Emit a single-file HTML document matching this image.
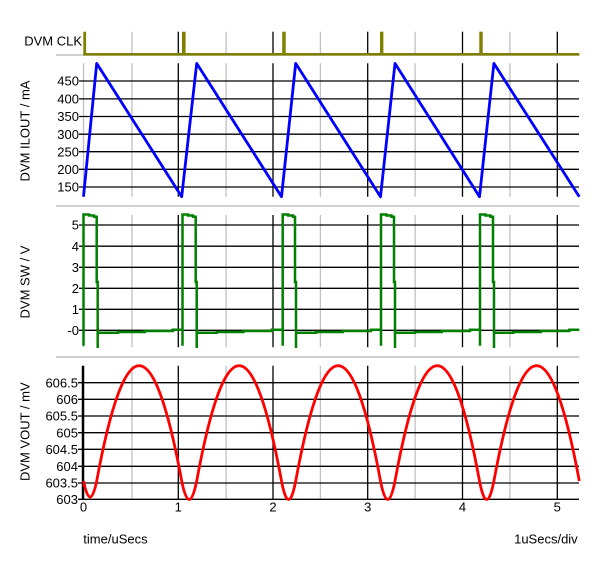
<!DOCTYPE html>
<html><head><meta charset="utf-8"><style>
html,body{margin:0;padding:0;background:#fff;}
svg{display:block;}
text{font-family:"Liberation Sans",Arial,sans-serif;font-size:13px;fill:#000;}
</style></head><body>
<svg width="600" height="563" viewBox="0 0 600 563" xmlns="http://www.w3.org/2000/svg">
<!-- separators -->
<g stroke="#c0c0c0" stroke-width="1.5">
<line x1="56" y1="55" x2="579.3" y2="55"/>
<line x1="56" y1="206" x2="579.3" y2="206"/>
<line x1="56" y1="357" x2="579.3" y2="357"/>
</g>
<!-- CLK panel grid -->
<g stroke="#c0c0c0" stroke-width="1.3">
<line x1="131.9" y1="31.7" x2="131.9" y2="54"/><line x1="226.1" y1="31.7" x2="226.1" y2="54"/>
<line x1="320.4" y1="31.7" x2="320.4" y2="54"/><line x1="415.1" y1="31.7" x2="415.1" y2="54"/>
<line x1="509.9" y1="31.7" x2="509.9" y2="54"/>
</g>
<g stroke="#000" stroke-width="1.3">
<line x1="178.3" y1="31.7" x2="178.3" y2="54"/><line x1="273" y1="31.7" x2="273" y2="54"/>
<line x1="367.7" y1="31.7" x2="367.7" y2="54"/><line x1="462.5" y1="31.7" x2="462.5" y2="54"/>
<line x1="557.3" y1="31.7" x2="557.3" y2="54"/>
</g>
<g fill="#808000">
<rect x="83.3" y="31.7" width="2.8" height="23"/>
<rect x="182" y="31.7" width="3.6" height="23"/>
<rect x="282.2" y="31.7" width="3.5" height="23"/>
<rect x="380" y="31.7" width="3.4" height="23"/>
<rect x="479.3" y="31.7" width="3.4" height="23"/>
<rect x="83.3" y="53" width="496" height="2.6"/>
</g>
<text x="82" y="45.5" text-anchor="end">DVM CLK</text>

<!-- ILOUT panel -->
<g stroke="#c0c0c0" stroke-width="1.3">
<line x1="83.5" y1="63.3" x2="83.5" y2="196.7"/>
<line x1="131.9" y1="63.3" x2="131.9" y2="196.7"/><line x1="226.1" y1="63.3" x2="226.1" y2="196.7"/>
<line x1="320.4" y1="63.3" x2="320.4" y2="196.7"/><line x1="415.1" y1="63.3" x2="415.1" y2="196.7"/>
<line x1="509.9" y1="63.3" x2="509.9" y2="196.7"/>
</g>
<g stroke="#000" stroke-width="1.3">
<line x1="178.3" y1="63.3" x2="178.3" y2="196.7"/><line x1="273" y1="63.3" x2="273" y2="196.7"/>
<line x1="367.7" y1="63.3" x2="367.7" y2="196.7"/><line x1="462.5" y1="63.3" x2="462.5" y2="196.7"/>
<line x1="557.3" y1="63.3" x2="557.3" y2="196.7"/>
<line x1="79" y1="81" x2="579" y2="81"/><line x1="79" y1="98.9" x2="579" y2="98.9"/>
<line x1="79" y1="116.5" x2="579" y2="116.5"/><line x1="79" y1="134.2" x2="579" y2="134.2"/>
<line x1="79" y1="151.7" x2="579" y2="151.7"/><line x1="79" y1="169.3" x2="579" y2="169.3"/>
<line x1="79" y1="187" x2="579" y2="187"/>
</g>
<g text-anchor="end">
<text x="79" y="85.7">450</text><text x="79" y="103.6">400</text><text x="79" y="121.2">350</text>
<text x="79" y="138.9">300</text><text x="79" y="156.4">250</text><text x="79" y="174">200</text>
<text x="79" y="191.7">150</text>
</g>
<text transform="translate(29.5,131) rotate(-90)" text-anchor="middle">DVM ILOUT / mA</text>
<polyline fill="none" stroke="#0000ff" stroke-width="2.8" stroke-linejoin="round"
 points="83.5,196.7 96.7,63.4 181.7,196.7 196.7,63.4 281.5,196.7 295.7,63.4 380.5,196.7 395,63.4 479.5,196.7 493.9,63.4 579.3,196.7"/>

<!-- SW panel -->
<g stroke="#c0c0c0" stroke-width="1.3">
<line x1="83.5" y1="215" x2="83.5" y2="347.3"/>
<line x1="131.9" y1="215" x2="131.9" y2="347.3"/><line x1="226.1" y1="215" x2="226.1" y2="347.3"/>
<line x1="320.4" y1="215" x2="320.4" y2="347.3"/><line x1="415.1" y1="215" x2="415.1" y2="347.3"/>
<line x1="509.9" y1="215" x2="509.9" y2="347.3"/>
</g>
<g stroke="#000" stroke-width="1.3">
<line x1="178.3" y1="215" x2="178.3" y2="347.3"/><line x1="273" y1="215" x2="273" y2="347.3"/>
<line x1="367.7" y1="215" x2="367.7" y2="347.3"/><line x1="462.5" y1="215" x2="462.5" y2="347.3"/>
<line x1="557.3" y1="215" x2="557.3" y2="347.3"/>
<line x1="79" y1="225" x2="579" y2="225"/><line x1="79" y1="246.2" x2="579" y2="246.2"/>
<line x1="79" y1="267.3" x2="579" y2="267.3"/><line x1="79" y1="288.3" x2="579" y2="288.3"/>
<line x1="79" y1="309.3" x2="579" y2="309.3"/><line x1="79" y1="330.3" x2="579" y2="330.3"/>
</g>
<g text-anchor="end">
<text x="79" y="229.7">5</text><text x="79" y="250.9">4</text><text x="79" y="272">3</text>
<text x="79" y="293">2</text><text x="79" y="314">1</text><text x="79" y="335">-0</text>
</g>
<text transform="translate(29.5,282) rotate(-90)" text-anchor="middle">DVM SW / V</text>
<path fill="none" stroke="#008000" stroke-width="2.5" stroke-linejoin="miter"
 d="M83.5 345.7 V214.5 H89 V215.5 H94 V216.7 H96.7 V282 H97.7 V348 V332.7 H118 V332 H144.7 V331 H172.7 V329.7 H182.5 V345.7 V214.5 H188 V215.5 H193 V216.7 H195.7 V282 H196.7 V348 V332.7 H216.7 V332 H243.4 V331 H271.7 V329.7 H282.7 V345.7 V214.5 H288.2 V215.5 H293 V216.7 H295 V282 H296 V348 V332.7 H316 V332 H342.7 V331 H371 V329.7 H381 V345.7 V214.5 H386.5 V215.5 H391.5 V216.7 H394 V282 H395 V348 V332.7 H415 V332 H441.7 V331 H470 V329.7 H480 V345.7 V214.5 H485.5 V215.5 H490.5 V216.7 H493 V282 H494 V348 V332.7 H513.3 V332 H540.7 V331 H569.3 V329.7 H579.3"/>

<!-- VOUT panel -->
<g stroke="#c0c0c0" stroke-width="1.3">
<line x1="131.9" y1="365.7" x2="131.9" y2="499.3"/><line x1="226.1" y1="365.7" x2="226.1" y2="499.3"/>
<line x1="320.4" y1="365.7" x2="320.4" y2="499.3"/><line x1="415.1" y1="365.7" x2="415.1" y2="499.3"/>
<line x1="509.9" y1="365.7" x2="509.9" y2="499.3"/>
</g>
<g stroke="#000" stroke-width="1.3">
<line x1="178.3" y1="365.7" x2="178.3" y2="499.3"/><line x1="273" y1="365.7" x2="273" y2="499.3"/>
<line x1="367.7" y1="365.7" x2="367.7" y2="499.3"/><line x1="462.5" y1="365.7" x2="462.5" y2="499.3"/>
<line x1="557.3" y1="365.7" x2="557.3" y2="499.3"/>
<line x1="78" y1="382.7" x2="579" y2="382.7"/><line x1="78" y1="399.3" x2="579" y2="399.3"/>
<line x1="78" y1="416" x2="579" y2="416"/><line x1="78" y1="432.7" x2="579" y2="432.7"/>
<line x1="78" y1="449.3" x2="579" y2="449.3"/><line x1="78" y1="466.3" x2="579" y2="466.3"/>
<line x1="78" y1="483" x2="579" y2="483"/><line x1="78" y1="499.3" x2="579" y2="499.3"/>
</g>
<line x1="83" y1="365.7" x2="83" y2="500" stroke="#000" stroke-width="2.5"/>
<g text-anchor="end">
<text x="78" y="387.4">606.5</text><text x="78" y="404">606</text><text x="78" y="420.7">605.5</text>
<text x="78" y="437.4">605</text><text x="78" y="454">604.5</text><text x="78" y="471">604</text>
<text x="78" y="487.7">603.5</text><text x="78" y="503.8">603</text>
</g>
<text transform="translate(29.5,431.7) rotate(-90)" text-anchor="middle">DVM VOUT / mV</text>
<path fill="none" stroke="#ff0000" stroke-width="2.8"
 d="M83.5 481 Q90.1 513 96.7 481 Q139.2 250.4 181.7 481 Q189.2 518 196.7 481 Q239.1 250.4 281.5 481 Q288.6 518 295.7 481 Q338.1 250.4 380.5 481 Q387.75 518 395 481 Q437.25 250.4 479.5 481 Q486.7 518 493.9 481 Q536.6 250.4 579.3 481"/>

<!-- x axis labels -->
<g text-anchor="middle">
<text x="83.5" y="511.7">0</text><text x="178.3" y="511.7">1</text><text x="273" y="511.7">2</text>
<text x="367.7" y="511.7">3</text><text x="462.5" y="511.7">4</text><text x="557.3" y="511.7">5</text>
</g>
<text x="83.3" y="543.3">time/uSecs</text>
<text x="577.7" y="543.3" text-anchor="end">1uSecs/div</text>
</svg>
</body></html>
